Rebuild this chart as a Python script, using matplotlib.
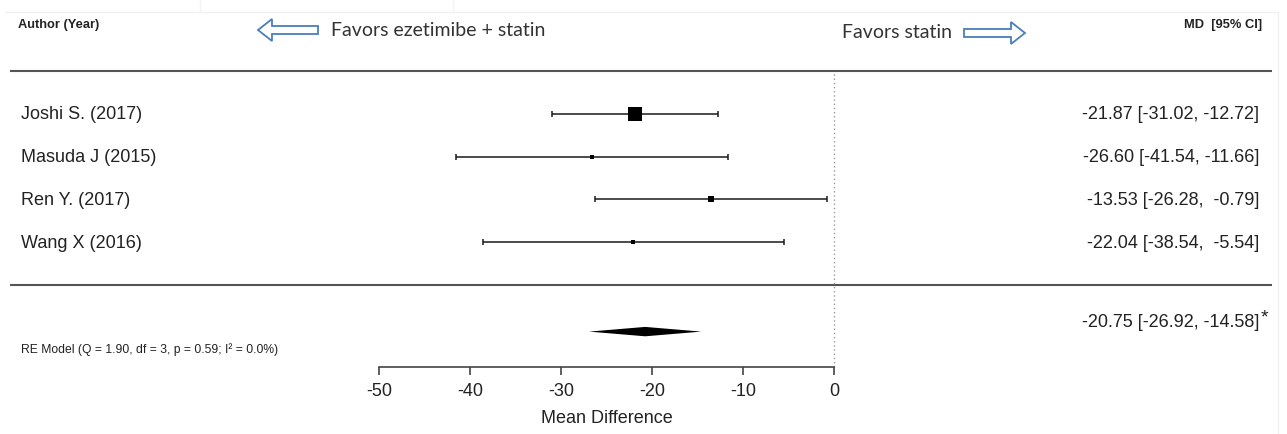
import matplotlib
matplotlib.use("Agg")
import matplotlib.pyplot as plt
from matplotlib.patches import FancyArrow
import numpy as np

# data
studies = ["Joshi S. (2017)", "Masuda J (2015)", "Ren Y. (2017)", "Wang X (2016)"]
md = [-21.87, -26.60, -13.53, -22.04]
ci_lo = [-31.02, -41.54, -26.28, -38.54]
ci_hi = [-12.72, -11.66, -0.79, -5.54]
re_md, re_lo, re_hi = -20.75, -26.92, -14.58
re_label = "RE Model (Q = 1.90, df = 3, p = 0.59; I\u00b2 = 0.0%)"
xticks = [-50, -40, -30, -20, -10, 0]

W, H = 1287, 435
fig = plt.figure(figsize=(W / 100, H / 100), dpi=100)
ax = fig.add_axes([0, 0, 1, 1])
plt.rcParams['font.family'] = ['Liberation Sans', 'DejaVu Sans']

# x: data units (9.1 px per unit, 0 at px 834); y: rows like metafor
ppu = 9.1
x0px = 834
ax.set_xlim(-x0px / ppu, (W - x0px) / ppu)
rowpx = 42.67
ax.set_ylim(1 - (H - 243) / rowpx, 1 + 243 / rowpx)

def fx(px):  # pixel x -> figure fraction
    return px / W

def fy(py):  # pixel y (from top) -> figure fraction
    return 1 - py / H

rows = np.arange(len(studies), 0, -1)  # 4,3,2,1
k = len(studies)
ink = "#1a1a1a"
txt = "#222222"

# horizontal rules and zero line
ax.hlines([k + 1, 0], -(x0px - 10) / ppu, (1272 - x0px) / ppu, color="#555555", lw=1.5)
ax.vlines(0, -1.93, k + 0.95, color="#999999", lw=1, linestyles=(0, (1, 2)))

# confidence intervals
lo = np.array(ci_lo)
hi = np.array(ci_hi)
est = np.array(md)
ax.errorbar(est, rows, xerr=[est - lo, hi - est], fmt="none", ecolor=ink,
            elinewidth=1.1, capsize=2.2, capthick=1.1)

# squares sized by inverse-variance weight
se = (hi - lo) / 3.92
w = 1 / se ** 2
ms = 9.4 * w / w.max()
for xi, yi, si in zip(est, rows, ms):
    ax.plot(xi, yi, marker="s", ms=si, color="black", mec="black", mew=0)

# summary diamond
h = 0.11
ax.fill([re_lo, re_md, re_hi, re_md], [-1.1, -1.1 + h, -1.1, -1.1 - h], color="black", lw=0)

# x axis
for s in ["top", "left", "right"]:
    ax.spines[s].set_visible(False)
ax.spines["bottom"].set_position(("data", -1.93))
ax.spines["bottom"].set_bounds(xticks[0], xticks[-1])
ax.spines["bottom"].set_color("#444444")
ax.spines["bottom"].set_linewidth(1.2)
ax.set_xticks(xticks)
ax.set_xticklabels([str(t) for t in xticks], fontsize=13, color=txt)
ax.tick_params(axis="x", direction="out", length=6, width=1.2, color="#444444", pad=5)
ax.set_yticks([])
ax.text(-25, 1 - (419 - 243) / rowpx, "Mean Difference", ha="center", va="center",
        fontsize=13, color=txt)

# study labels and values
for name, yi, e, l, u in zip(studies, rows, est, lo, hi):
    ax.text(-(x0px - 21) / ppu, yi, name, ha="left", va="center", fontsize=13, color=txt)
    ax.text((1259 - x0px) / ppu, yi, f"{e:.2f} [{l:.2f}, {u:6.2f}]",
            ha="right", va="center", fontsize=13, color=txt)

ax.text((1259 - x0px) / ppu, -0.86, f"{re_md:.2f} [{re_lo:.2f}, {re_hi:.2f}]",
        ha="right", va="center", fontsize=13, color=txt)
ax.text((1261 - x0px) / ppu, -0.76, "*", ha="left", va="center", fontsize=14, color=txt)
ax.text(-(x0px - 21) / ppu, -1.5, re_label, ha="left", va="center", fontsize=8.7, color=txt)

# headers
fig.text(fx(18), fy(25), "Author (Year)", ha="left", va="center", fontsize=9.3,
         fontweight="bold", color=txt)
fig.text(fx(1262), fy(25), "MD  [95% CI]", ha="right", va="center", fontsize=9.3,
         fontweight="bold", color=txt)
fig.text(fx(331), fy(31), "Favors ezetimibe + statin", ha="left", va="center",
         fontsize=14, color="#333333", family=["Lato", "DejaVu Sans"])
fig.text(fx(842), fy(33), "Favors statin", ha="left", va="center",
         fontsize=14, color="#333333", family=["Lato", "DejaVu Sans"])

# hollow block arrows
blue = "#4a7ebb"
for tail, tip, ypx in [(318, 258, 31), (964, 1025, 34)]:
    dx = (tip - tail) / ppu
    yrow = 1 + (243 - ypx) / rowpx
    arr = FancyArrow((tail - x0px) / ppu, yrow, dx, 0, width=8 / rowpx,
                     head_width=22 / rowpx, head_length=14 / ppu,
                     length_includes_head=True, fc="white", ec=blue, lw=1.3)
    ax.add_patch(arr)

# faint frame from the screenshot
fig.add_artist(plt.Line2D([fx(5), fx(1278)], [fy(13), fy(13)], color="#f0f0f0", lw=1))
fig.add_artist(plt.Line2D([fx(1278), fx(1278)], [fy(13), fy(435)], color="#f0f0f0", lw=1))
for xv in (200, 453):
    fig.add_artist(plt.Line2D([fx(xv), fx(xv)], [fy(0), fy(13)], color="#f4f4f4", lw=1))

fig.savefig("out.png", dpi=100)
